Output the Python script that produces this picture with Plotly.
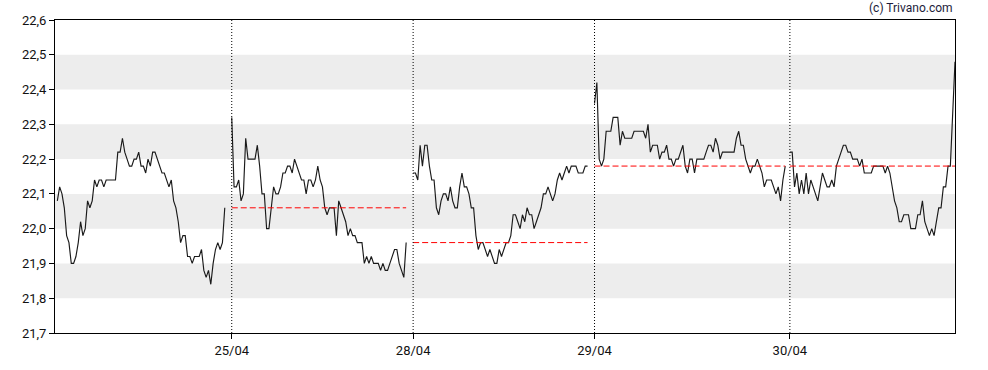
import plotly.graph_objects as go

# ---- data (prices per trading day) ----
day_labels = ["24/04", "25/04", "28/04", "29/04", "30/04"]

day1 = [22.08, 22.12, 22.10, 22.06, 21.98, 21.96, 21.90, 21.90, 21.92, 21.96,
        22.02, 21.98, 22.00, 22.08, 22.06, 22.08, 22.14, 22.12, 22.14, 22.14,
        22.12, 22.14, 22.14, 22.14, 22.14, 22.14, 22.22, 22.22, 22.26, 22.22,
        22.20, 22.18, 22.18, 22.20, 22.20, 22.22, 22.18, 22.18, 22.16, 22.20,
        22.18, 22.22, 22.22, 22.20, 22.18, 22.16, 22.16, 22.14, 22.12, 22.14,
        22.08, 22.06, 22.02, 21.96, 21.98, 21.98, 21.92, 21.92, 21.90, 21.92,
        21.92, 21.92, 21.94, 21.88, 21.86, 21.88, 21.84, 21.90, 21.94, 21.96,
        21.94, 21.96, 22.06]

day2 = [22.32, 22.12, 22.12, 22.14, 22.08, 22.10, 22.26, 22.20, 22.20, 22.20,
        22.20, 22.24, 22.18, 22.10, 22.10, 22.00, 22.00, 22.06, 22.12, 22.10,
        22.10, 22.12, 22.16, 22.16, 22.18, 22.18, 22.16, 22.20, 22.18, 22.16,
        22.14, 22.14, 22.10, 22.14, 22.14, 22.12, 22.14, 22.18, 22.14, 22.12,
        22.06, 22.04, 22.06, 22.06, 22.06, 21.98, 22.08, 22.06, 22.04, 22.02,
        21.98, 22.00, 21.98, 21.98, 21.96, 21.96, 21.96, 21.90, 21.92, 21.90,
        21.92, 21.90, 21.90, 21.90, 21.88, 21.90, 21.88, 21.88, 21.90, 21.92,
        21.94, 21.94, 21.90, 21.88, 21.86, 21.96]

day3 = [22.16, 22.16, 22.14, 22.24, 22.18, 22.24, 22.24, 22.18, 22.14, 22.14,
        22.06, 22.04, 22.08, 22.10, 22.10, 22.08, 22.12, 22.08, 22.06, 22.06,
        22.12, 22.16, 22.12, 22.12, 22.10, 22.06, 22.06, 21.98, 21.94, 21.96,
        21.96, 21.94, 21.92, 21.94, 21.92, 21.90, 21.90, 21.94, 21.92, 21.94,
        21.96, 21.96, 21.98, 22.04, 22.04, 22.02, 22.00, 22.04, 22.02, 22.06,
        22.04, 22.04, 22.00, 22.02, 22.04, 22.06, 22.10, 22.10, 22.12, 22.10,
        22.08, 22.10, 22.14, 22.16, 22.14, 22.16, 22.18, 22.16, 22.18, 22.18,
        22.18, 22.16, 22.16, 22.16, 22.18, 22.18]

day4 = [22.36, 22.42, 22.20, 22.18, 22.20, 22.28, 22.28, 22.28, 22.32, 22.32,
        22.32, 22.24, 22.28, 22.26, 22.26, 22.26, 22.26, 22.28, 22.28, 22.28,
        22.28, 22.28, 22.26, 22.30, 22.22, 22.24, 22.24, 22.24, 22.20, 22.22,
        22.22, 22.24, 22.20, 22.20, 22.18, 22.20, 22.20, 22.22, 22.24, 22.18,
        22.16, 22.20, 22.20, 22.16, 22.20, 22.20, 22.20, 22.20, 22.22, 22.24,
        22.24, 22.22, 22.26, 22.24, 22.20, 22.22, 22.22, 22.22, 22.22, 22.22,
        22.22, 22.26, 22.28, 22.24, 22.24, 22.20, 22.18, 22.16, 22.18, 22.18,
        22.20, 22.18, 22.16, 22.12, 22.14, 22.14, 22.14, 22.12, 22.10, 22.12,
        22.08, 22.14, 22.18]

day5 = [22.22, 22.22, 22.12, 22.16, 22.10, 22.14, 22.10, 22.16, 22.10, 22.14,
        22.12, 22.10, 22.08, 22.12, 22.16, 22.14, 22.12, 22.12, 22.14, 22.12,
        22.18, 22.20, 22.22, 22.24, 22.24, 22.22, 22.22, 22.20, 22.20, 22.20,
        22.18, 22.20, 22.16, 22.16, 22.16, 22.16, 22.18, 22.18, 22.18, 22.18,
        22.18, 22.16, 22.18, 22.16, 22.12, 22.08, 22.06, 22.02, 22.02, 22.04,
        22.04, 22.04, 22.00, 22.00, 22.00, 22.04, 22.04, 22.08, 22.02, 22.00,
        21.98, 22.00, 21.98, 22.02, 22.06, 22.06, 22.12, 22.12, 22.18, 22.18,
        22.35, 22.48]

days = [day1, day2, day3, day4, day5]
gap_slots = [2, 2, 2, 1]          # empty time slots between sessions

y_ticks = [21.7, 21.8, 21.9, 22.0, 22.1, 22.2, 22.3, 22.4, 22.5, 22.6]
bands = [(21.8, 21.9), (22.0, 22.1), (22.2, 22.3), (22.4, 22.5)]

# ---- build x positions (time-slot index) ----
starts = []
pos = 0
for i, d in enumerate(days):
    starts.append(pos)
    pos += len(d)
    if i < len(gap_slots):
        pos += gap_slots[i]
x_last = starts[-1] + len(days[-1]) - 1

fig = go.Figure()

line_col = "#1a1a1a"
for s, d in zip(starts, days):
    fig.add_trace(go.Scatter(x=[s + i for i in range(len(d))], y=d, mode="lines",
                             line=dict(color=line_col, width=1.15), hoverinfo="skip",
                             showlegend=False))

# previous-close reference lines
for k in range(1, len(days)):
    prev = days[k - 1][-1]
    s = starts[k]
    e = s + len(days[k]) - 1
    fig.add_trace(go.Scatter(x=[s, e], y=[prev, prev], mode="lines",
                             line=dict(color="#ff0000", width=1, dash="6px,3px"),
                             hoverinfo="skip", showlegend=False))

shapes = []
for lo, hi in bands:
    shapes.append(dict(type="rect", xref="paper", yref="y", x0=0, x1=1, y0=lo, y1=hi,
                       fillcolor="#ededed", line=dict(width=0), layer="below"))
for s in starts[1:]:
    shapes.append(dict(type="line", xref="x", yref="paper", x0=s, x1=s, y0=0, y1=1,
                       line=dict(color="black", width=1, dash="1px,2px"), layer="above"))

fig.update_layout(
    width=988, height=370,
    margin=dict(l=55, r=33, t=20, b=35),
    paper_bgcolor="white", plot_bgcolor="white",
    separators=",.",
    font=dict(family="Roboto, Arial, sans-serif", size=13, color="#111111"),
    shapes=shapes,
    annotations=[dict(text="(c) Trivano.com", xref="paper", yref="paper",
                      x=1, y=1, xanchor="right", yanchor="bottom", yshift=3,
                      showarrow=False, font=dict(size=12, color="#1c1c3a"))],
    showlegend=False,
)
fig.update_xaxes(range=[-1, x_last], showgrid=False, zeroline=False,
                 showline=True, linecolor="black", linewidth=1, mirror=True,
                 ticks="outside", ticklen=5, tickcolor="black",
                 tickvals=starts[1:], ticktext=day_labels[1:])
fig.update_yaxes(range=[21.7, 22.6], showgrid=False, zeroline=False,
                 showline=True, linecolor="black", linewidth=1, mirror=True,
                 ticks="outside", ticklen=5, tickcolor="black",
                 tickvals=y_ticks, tickformat=".1f")

fig.write_html("out.html", config={"displayModeBar": False},
               post_script="document.body.style.margin='0';")
